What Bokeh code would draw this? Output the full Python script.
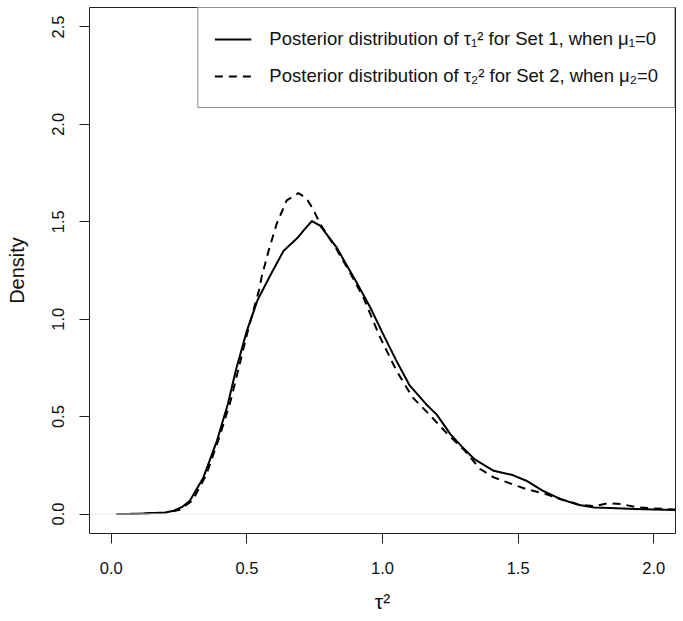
from bokeh.plotting import figure
from bokeh.models import Legend, LegendItem, Span, NumeralTickFormatter, FixedTicker
from bokeh.embed import file_html
from bokeh.resources import INLINE

# Set 1 posterior density of tau_1^2 (solid)
set1_x = [0.02, 0.1, 0.2, 0.23, 0.26, 0.29, 0.34, 0.39, 0.43, 0.46, 0.5, 0.54, 0.59, 0.635,
          0.685, 0.715, 0.74, 0.77, 0.83, 0.9, 0.955, 1.0, 1.05, 1.1, 1.16, 1.2, 1.25, 1.29,
          1.34, 1.41, 1.48, 1.53, 1.59, 1.655, 1.72, 1.78, 1.84, 1.93, 2.0, 2.08]
set1_y = [0.0, 0.002, 0.008, 0.017, 0.035, 0.068, 0.188, 0.377, 0.565, 0.74, 0.94, 1.10,
          1.235, 1.35, 1.415, 1.465, 1.504, 1.48, 1.37, 1.2, 1.06, 0.93, 0.79, 0.66, 0.565,
          0.51, 0.41, 0.35, 0.28, 0.222, 0.2, 0.171, 0.12, 0.077, 0.048, 0.034, 0.031,
          0.026, 0.023, 0.02]

# Set 2 posterior density of tau_2^2 (dashed)
set2_x = [0.02, 0.1, 0.2, 0.25, 0.3, 0.35, 0.4, 0.44, 0.47, 0.5, 0.525, 0.545, 0.555, 0.58,
          0.61, 0.647, 0.69, 0.72, 0.746, 0.77, 0.83, 0.88, 0.93, 0.99, 1.05, 1.11, 1.18,
          1.24, 1.3, 1.36, 1.41, 1.47, 1.53, 1.61, 1.655, 1.72, 1.78, 1.83, 1.88, 1.94,
          2.0, 2.08]
set2_y = [0.0, 0.002, 0.007, 0.02, 0.07, 0.2, 0.4, 0.58, 0.75, 0.92, 1.05, 1.15, 1.22,
          1.35, 1.49, 1.61, 1.647, 1.62, 1.56, 1.49, 1.36, 1.24, 1.11, 0.91, 0.74, 0.6,
          0.5, 0.41, 0.33, 0.231, 0.188, 0.157, 0.128, 0.099, 0.077, 0.05, 0.04, 0.055,
          0.051, 0.034, 0.029, 0.023]

x_ticks = [0.0, 0.5, 1.0, 1.5, 2.0]
y_ticks = [0.0, 0.5, 1.0, 1.5, 2.0, 2.5]
label1 = "Posterior distribution of τ₁² for Set 1, when μ₁=0"
label2 = "Posterior distribution of τ₂² for Set 2, when μ₂=0"

FONT = "Liberation Sans"

p = figure(width=683, height=621, x_range=(-0.08, 2.08), y_range=(-0.1, 2.6),
           output_backend="svg", toolbar_location=None,
           min_border_left=89, min_border_right=8, min_border_top=7, min_border_bottom=88)

p.xgrid.visible = False
p.ygrid.visible = False
p.outline_line_color = "#222222"
p.outline_line_width = 1
p.background_fill_color = "white"
p.border_fill_color = "white"

p.add_layout(Span(location=0, dimension="width", line_color="#ececec", line_width=1))

r1 = p.line(set1_x, set1_y, line_color="black", line_width=2, line_join="round")
r2 = p.line(set2_x, set2_y, line_color="black", line_width=2, line_dash="8 6",
            line_join="round")

for ax in (p.xaxis[0], p.yaxis[0]):
    ax.axis_line_color = None
    ax.major_tick_line_color = "#222222"
    ax.major_tick_out = 10
    ax.major_tick_in = 0
    ax.minor_tick_line_color = None
    ax.major_label_text_font = FONT
    ax.major_label_text_font_size = "16.5px"
    ax.major_label_text_color = "#111111"
    ax.axis_label_text_font = FONT
    ax.axis_label_text_font_style = "normal"
    ax.axis_label_text_color = "#111111"
    ax.formatter = NumeralTickFormatter(format="0.0")

p.xaxis[0].ticker = FixedTicker(ticks=x_ticks)
p.yaxis[0].ticker = FixedTicker(ticks=y_ticks)
p.xaxis[0].major_label_standoff = 18
p.yaxis[0].major_label_standoff = 15
p.yaxis[0].major_label_orientation = "vertical"
p.xaxis[0].axis_label = "τ²"
p.yaxis[0].axis_label = "Density"
p.xaxis[0].axis_label_text_font_size = "21px"
p.yaxis[0].axis_label_text_font_size = "20px"
p.xaxis[0].axis_label_standoff = 13
p.yaxis[0].axis_label_standoff = 22

legend = Legend(items=[LegendItem(label=label1, renderers=[r1]),
                       LegendItem(label=label2, renderers=[r2])],
                location="top_right", margin=0, padding=16, spacing=7,
                glyph_width=37, glyph_height=30, label_height=30, label_standoff=18,
                label_text_font=FONT, label_text_font_size="18.5px",
                label_text_color="#111111",
                border_line_color="#222222", border_line_width=1,
                background_fill_color="white", background_fill_alpha=1.0)
p.add_layout(legend)

open("out.html", "w").write(file_html(p, INLINE))
